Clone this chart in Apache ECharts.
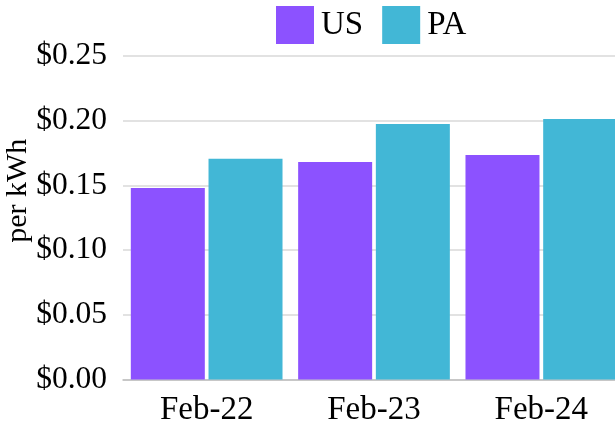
<!DOCTYPE html>
<html>
<head>
<meta charset="utf-8">
<script src="https://cdn.jsdelivr.net/npm/echarts@6/dist/echarts.min.js"></script>
<style>
  html, body { margin: 0; padding: 0; background: #fff; }
  #chart { width: 615px; height: 428px; }
</style>
</head>
<body>
<div id="chart"></div>
<script>
// data
const categories = ['Feb-22', 'Feb-23', 'Feb-24']
const usValues = [0.148, 0.168, 0.1735]
const paValues = [0.1705, 0.1975, 0.2013]
const yTicks = { min: 0, max: 0.25, interval: 0.05 }

const font = 'Liberation Serif, Times New Roman, serif'

const chart = echarts.init(document.getElementById('chart'))
const option = {
  animation: false,
  color: ['#8c52ff', '#42b7d6'],
  legend: {
    top: 1,
    left: 271,
    itemWidth: 38,
    itemHeight: 38,
    itemGap: 19,
    icon: 'rect',
    textStyle: {
      fontFamily: font,
      fontSize: 33,
      color: '#000',
      padding: [0, 0, 0, 2]
    },
    data: ['US', 'PA']
  },
  grid: {
    top: 56,
    bottom: 48.5,
    left: 123,
    right: -10,
    containLabel: false,
    outerBoundsMode: 'none'
  },
  xAxis: {
    type: 'category',
    data: categories,
    axisTick: { show: false },
    axisLine: {
      lineStyle: { color: '#bfbfbf', width: 1.5 }
    },
    axisLabel: {
      margin: 14,
      fontFamily: font,
      fontSize: 33,
      color: '#000'
    }
  },
  yAxis: {
    type: 'value',
    min: yTicks.min,
    max: yTicks.max,
    interval: yTicks.interval,
    name: 'per kWh',
    nameLocation: 'middle',
    nameGap: 90,
    nameMoveOverlap: false,
    nameTextStyle: {
      fontFamily: font,
      fontSize: 30,
      color: '#000',
      padding: [0, 0, 0, 54]
    },
    axisLine: { show: false },
    axisTick: { show: false },
    splitLine: {
      lineStyle: { color: '#d9d9d9', width: 1.5 }
    },
    axisLabel: {
      margin: 16,
      fontFamily: font,
      fontSize: 31.5,
      color: '#000',
      formatter: function (v) {
        return '$' + v.toFixed(2)
      }
    }
  },
  series: [
    {
      name: 'US',
      type: 'bar',
      barWidth: 74,
      barGap: '5%',
      data: usValues
    },
    {
      name: 'PA',
      type: 'bar',
      barWidth: 74,
      barGap: '5%',
      data: paValues
    }
  ]
}
chart.setOption(option)
</script>
</body>
</html>
